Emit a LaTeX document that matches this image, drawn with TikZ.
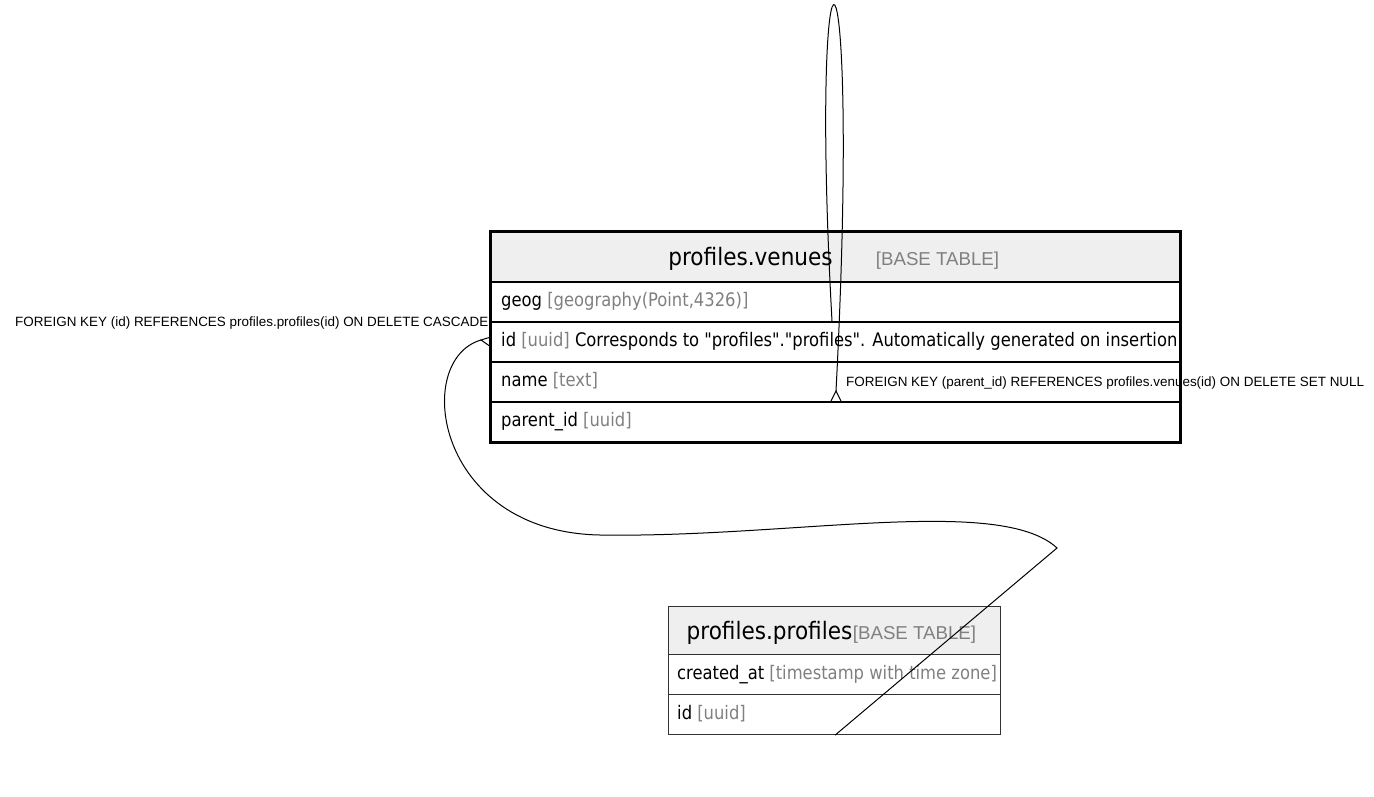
\documentclass[tikz,border=0pt]{standalone}
\usepackage{fontspec}
\setmainfont{Liberation Sans}
\newfontfamily\tblfont[FakeStretch=0.975]{DejaVu Sans Condensed}
\newfontfamily\titlefont{DejaVu Sans Condensed}
\newfontfamily\tagfont{Liberation Sans}
\definecolor{hdrfill}{RGB}{239,239,239}
\definecolor{typegray}{RGB}{128,128,128}
\definecolor{pborder}{RGB}{50,50,50}
\begin{document}
\begin{tikzpicture}[x=1pt,y=-1pt,
  vcell/.style={draw=black, line width=1.5pt, minimum width=689pt, minimum height=40pt, inner sep=0pt, anchor=north west},
  vheadcell/.style={vcell, fill=hdrfill, minimum height=50pt},
  pcell/.style={draw=pborder, line width=1.2pt, minimum width=332pt, minimum height=40pt, inner sep=0pt, anchor=north west},
  pheadcell/.style={pcell, fill=hdrfill, minimum height=48pt},
  coltext/.style={anchor=base west, inner sep=0pt, font=\tblfont\fontsize{18.67}{22}\selectfont},
  titletext/.style={anchor=base, inner sep=0pt, font=\titlefont\fontsize{24}{28}\selectfont},
  tagtext/.style={anchor=base, inner sep=0pt, text=typegray, font=\tagfont\fontsize{18.67}{22}\selectfont},
  fklabel/.style={anchor=base west, inner sep=0pt, font=\fontsize{13.45}{15}\selectfont},
  edge/.style={draw=black, line width=1pt}
]
\useasboundingbox (0,0) rectangle (1374,796);

% ---- profiles.venues ----
\node[vheadcell] (vhead) at (490,231) {};
\node[vcell] (vgeog) at (490,281) {};
\node[vcell] (vid) at (490,321) {};
\node[vcell] (vname) at (490,361) {};
\node[vcell] (vpar) at (490,401) {};
\draw[line width=3pt] (vhead.north west) rectangle (vpar.south east);

\node[titletext] (vtitle) at (750.5,265) {profiles.venues};
\node[tagtext] (vtag) at (937.5,265) {[BASE TABLE]};
\node[coltext] (tgeog) at (501,306.5) {geog \textcolor{typegray}{[geography(Point,4326)]}};
\node[coltext] (tid) at (501,346.5) {id \textcolor{typegray}{[uuid]} Corresponds to "profiles"."profiles". Automatically generated on insertion};
\node[coltext] (tname) at (501,386.5) {name \textcolor{typegray}{[text]}};
\node[coltext] (tpar) at (501,426.5) {parent\_id \textcolor{typegray}{[uuid]}};

% ---- profiles.profiles ----
\node[pheadcell] (phead) at (668,606) {};
\node[pcell] (pcreated) at (668,654) {};
\node[pcell] (pid) at (668,694) {};

\node[titletext] (ptitle) at (769.5,639) {profiles.profiles};
\node[tagtext] (ptag) at (914.5,639) {[BASE TABLE]};
\node[coltext] (tcreated) at (677,679.5) {created\_at \textcolor{typegray}{[timestamp with time zone]}};
\node[coltext] (tpid) at (677,719.5) {id \textcolor{typegray}{[uuid]}};

% ---- self reference: parent_id -> id ----
\coordinate (loopTip) at (836,391);
\draw[edge] ([xshift=342pt]vid.north west) .. controls (808,-112) and (862,-112) .. (loopTip);
\draw[edge] ([xshift=341pt]vpar.north west) -- (loopTip) -- ([xshift=351pt]vpar.north west);

% ---- venues.id -> profiles.id ----
\coordinate (cascTip) at (481,340);
\coordinate (cascBend) at (1057,548);
\draw[edge] ([yshift=4.5pt]vid.west) -- (cascTip) -- ([yshift=-4.5pt]vid.west);
\draw[edge] (cascTip) .. controls (412,360) and (435,532) .. (600,535)
  .. controls (790,538) and (1000,495) .. (cascBend) -- ([xshift=167pt]pid.south west);

% ---- labels ----
\node[fklabel] (lcasc) at (15,326) {FOREIGN KEY (id) REFERENCES profiles.profiles(id) ON DELETE CASCADE};
\node[fklabel] (lnull) at (846,386) {FOREIGN KEY (parent\_id) REFERENCES profiles.venues(id) ON DELETE SET NULL};
\end{tikzpicture}
\end{document}
